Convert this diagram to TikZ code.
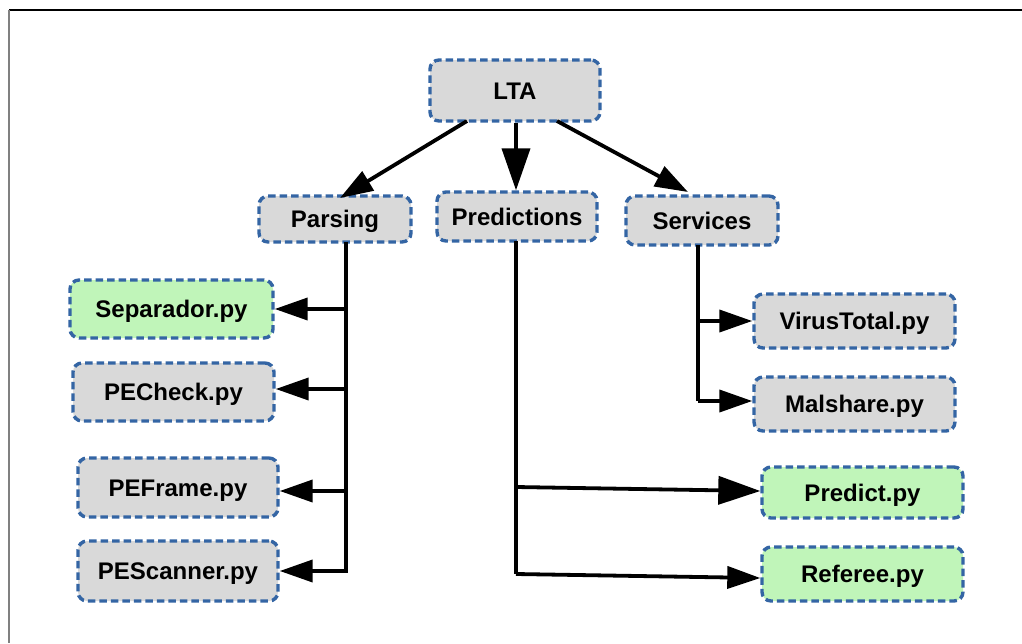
\documentclass[tikz,border=0pt]{standalone}
\usepackage{fontspec}
\setmainfont{Liberation Sans}
\usetikzlibrary{arrows.meta}
\definecolor{boxblue}{RGB}{52,101,164}
\definecolor{boxgray}{RGB}{217,217,217}
\definecolor{boxgreen}{RGB}{192,245,185}
\tikzset{
  box/.style={draw=boxblue, line width=3.4pt, dash pattern=on 7.5pt off 4pt,
    rounded corners=9pt, fill=boxgray, inner sep=0pt,
    font=\fontsize{24}{28}\selectfont\bfseries,
    text height=17.2pt, text depth=0pt, anchor=center},
  gbox/.style={box, fill=boxgreen},
  wire/.style={draw=black, line width=3.8pt},
  arr/.style={wire, -{Triangle[length=33pt,width=22pt]}},
  bigarr/.style={wire, -{Triangle[length=42pt,width=28pt]}},
}
\begin{document}
\begin{tikzpicture}[x=1pt,y=-1pt]
\useasboundingbox (0,0) rectangle (1022,643);
% page frame
\draw[black, line width=1.5pt] (9,10) -- (1022,10);
\draw[gray, line width=2pt] (9,10) -- (9,643);

% boxes
\node[box, minimum width=170pt, minimum height=61pt] (lta) at (515,90.5) {LTA};
\node[box, minimum width=152pt, minimum height=46pt] (parsing) at (335,219) {Parsing};
\node[box, minimum width=160pt, minimum height=49pt] (pred) at (517,216.5) {Predictions};
\node[box, minimum width=152pt, minimum height=49pt] (serv) at (702,220.5) {Services};

\node[gbox, minimum width=203pt, minimum height=58pt] (sep) at (171.5,309) {Separador.py};
\node[box, minimum width=201pt, minimum height=58pt] (pecheck) at (173.5,392) {PECheck.py};
\node[box, minimum width=200pt, minimum height=59pt] (peframe) at (178,487.5) {PEFrame.py};
\node[box, minimum width=200pt, minimum height=60pt] (pescan) at (178,571) {PEScanner.py};

\node[box, minimum width=201pt, minimum height=54pt] (vt) at (854.5,321) {VirusTotal.py};
\node[box, minimum width=201pt, minimum height=54pt] (mal) at (854.5,404) {Malshare.py};

\node[gbox, minimum width=201pt, minimum height=51pt] (predict) at (862.5,492.5) {Predict.py};
\node[gbox, minimum width=201pt, minimum height=54pt] (referee) at (862.5,574) {Referee.py};

% top level links
\coordinate (ltaL) at (467,121);
\coordinate (ltaR) at (557,121);
\coordinate (parsTip) at (340,198);
\coordinate (servTip) at (688,192);
\draw[arr] (ltaL) -- (parsTip);
\draw[bigarr] (lta.south -| 516,0) -- (pred.north -| 516,0);
\draw[arr] (ltaR) -- (servTip);

% Parsing bus
\coordinate (pbusTop) at (346,242);
\coordinate (pbusBot) at (346,571);
\draw[wire] (pbusTop) -- (pbusBot);
\draw[arr] (pbusTop |- sep.east) -- (sep.east);
\draw[arr] (pbusTop |- 0,389) -- (pecheck.east |- 0,389);
\draw[arr] (pbusTop |- 0,491) -- (peframe.east |- 0,491);
\draw[arr, line cap=rect] (pbusBot) -- (pescan.east |- pbusBot);

% Services bus
\coordinate (sbusTop) at (698,245);
\coordinate (sbusBot) at (698,401);
\draw[wire] (sbusTop) -- (sbusBot);
\draw[arr] (sbusTop |- vt.west) -- (vt.west);
\draw[arr] (sbusBot) -- (mal.west |- sbusBot);

% Predictions bus
\coordinate (prbusTop) at (516,241);
\coordinate (prbusMid) at (516,487);
\coordinate (prbusBot) at (516,574);
\draw[wire] (prbusTop) -- (prbusBot);
\draw[bigarr] (prbusMid) -- (predict.west |- 0,491);
\draw[arr] (prbusBot) -- (referee.west |- 0,578);
\end{tikzpicture}
\end{document}
